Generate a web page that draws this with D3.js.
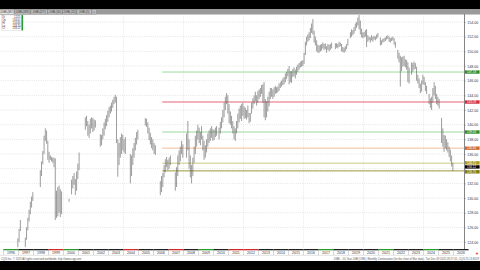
<!DOCTYPE html>
<html>
<head>
<meta charset="utf-8">
<script src="https://cdn.jsdelivr.net/npm/d3@7/dist/d3.min.js"></script>
<style>
  body { margin: 0; background: #000; }
  svg { display: block; font-family: "Liberation Sans", Arial, sans-serif; }
</style>
</head>
<body>
<svg id="chart" width="480" height="270"></svg>
<script>
// monthly bars: [month, low, high]
const priceBars = [
  ['1996-12', 123.3, 124.5], ['1997-01', 124.0, 125.8], ['1997-02', 125.5, 127.0],
  ['1997-06', 123.3, 124.6], ['1997-07', 124.3, 126.0], ['1997-08', 125.6, 127.3], ['1997-09', 126.8, 128.4],
  ['1997-10', 127.8, 129.5], ['1997-11', 128.7, 130.2], ['1997-12', 129.6, 130.8],
  ['1998-06', 131.5, 133.8], ['1998-07', 133.0, 135.0], ['1998-08', 134.6, 136.4], ['1998-09', 136.0, 138.5],
  ['1998-10', 137.8, 139.5], ['1998-11', 137.4, 139.2], ['1998-12', 135.2, 137.8], ['1999-01', 134.8, 136.3],
  ['1999-02', 135.2, 135.8], ['1999-03', 135.0, 135.6], ['1999-04', 134.8, 135.5], ['1999-05', 134.2, 135.5],
  ['1999-06', 127.0, 135.4], ['1999-07', 127.3, 131.0], ['1999-08', 127.5, 131.5], ['1999-09', 128.0, 131.7],
  ['1999-10', 127.4, 131.2], ['1999-11', 127.8, 130.9],
  ['2000-05', 129.5, 129.9], ['2000-07', 130.5, 132.5], ['2000-08', 131.3, 133.0], ['2000-09', 131.8, 133.4],
  ['2000-10', 130.4, 132.6], ['2000-11', 131.0, 133.6], ['2000-12', 132.6, 134.7], ['2001-01', 133.8, 136.2],
  ['2001-06', 139.3, 141.0], ['2001-07', 139.8, 141.2], ['2001-08', 138.5, 140.5], ['2001-09', 138.2, 140.0],
  ['2001-10', 138.8, 140.8], ['2001-11', 139.5, 141.0], ['2001-12', 139.0, 140.9], ['2002-01', 139.2, 140.7],
  ['2002-02', 139.6, 140.6],
  ['2002-06', 137.0, 138.7], ['2002-07', 137.2, 138.6], ['2002-08', 138.0, 139.5], ['2002-09', 138.5, 140.3],
  ['2002-10', 139.4, 140.8], ['2002-11', 139.8, 141.3], ['2002-12', 140.4, 141.9], ['2003-01', 141.0, 142.4],
  ['2003-02', 141.5, 142.6], ['2003-03', 141.8, 143.0], ['2003-04', 142.3, 143.4], ['2003-05', 142.8, 143.8],
  ['2003-06', 143.0, 144.05], ['2003-07', 137.5, 143.8], ['2003-08', 132.9, 138.0], ['2003-09', 134.5, 137.5],
  ['2003-10', 135.5, 138.3], ['2003-11', 136.0, 138.8], ['2003-12', 136.5, 138.6], ['2004-01', 136.2, 138.0],
  ['2004-02', 136.0, 138.3],
  ['2004-06', 132.0, 136.0], ['2004-07', 133.0, 135.8], ['2004-08', 134.5, 136.8], ['2004-09', 135.5, 137.5],
  ['2004-10', 136.5, 138.2], ['2004-11', 137.3, 139.0], ['2004-12', 138.0, 139.3],
  ['2005-06', 139.9, 140.9], ['2005-07', 139.7, 140.8], ['2005-08', 138.8, 140.3], ['2005-09', 137.9, 139.6],
  ['2005-10', 137.3, 138.9], ['2005-11', 136.8, 138.3], ['2005-12', 136.5, 138.0], ['2006-01', 136.0, 137.5],
  ['2006-02', 135.9, 137.2],
  ['2006-06', 130.4, 132.3], ['2006-07', 130.8, 133.0], ['2006-08', 131.5, 133.4], ['2006-09', 132.8, 134.5],
  ['2006-10', 133.5, 135.3], ['2006-11', 134.2, 135.6], ['2006-12', 133.8, 135.2], ['2007-01', 134.0, 135.5],
  ['2007-02', 134.5, 135.8],
  ['2007-06', 131.0, 133.5], ['2007-07', 131.5, 134.2], ['2007-08', 133.0, 135.8], ['2007-09', 134.5, 136.5],
  ['2007-10', 135.0, 137.0], ['2007-11', 136.0, 137.8], ['2007-12', 135.5, 137.3],
  ['2008-03', 135.5, 138.8], ['2008-04', 136.5, 140.5], ['2008-05', 134.0, 138.0], ['2008-06', 132.8, 135.8],
  ['2008-07', 132.0, 134.5], ['2008-08', 133.0, 135.5], ['2008-09', 134.8, 137.0], ['2008-10', 136.0, 138.5],
  ['2008-11', 137.0, 139.2], ['2008-12', 138.0, 140.0], ['2009-01', 137.5, 139.6], ['2009-02', 137.2, 139.0],
  ['2009-03', 138.0, 139.8], ['2009-04', 136.5, 138.5], ['2009-05', 135.2, 137.8], ['2009-06', 135.5, 137.2],
  ['2009-07', 136.2, 138.0], ['2009-08', 137.0, 138.8], ['2009-09', 137.5, 139.2], ['2009-10', 137.8, 139.5],
  ['2009-11', 138.2, 139.8], ['2009-12', 137.8, 139.4], ['2010-01', 137.9, 139.3], ['2010-02', 138.3, 139.6],
  ['2010-03', 138.5, 139.8], ['2010-05', 138.0, 139.6], ['2010-06', 138.8, 140.4], ['2010-07', 139.5, 141.0],
  ['2010-08', 140.3, 142.0], ['2010-09', 141.0, 143.0], ['2010-10', 142.0, 143.8], ['2010-11', 142.8, 144.3],
  ['2010-12', 141.5, 144.0], ['2011-01', 140.2, 142.8], ['2011-02', 140.0, 141.8], ['2011-03', 139.5, 141.2],
  ['2011-04', 138.8, 140.5], ['2011-05', 138.0, 139.8], ['2011-06', 137.8, 139.5], ['2011-07', 138.8, 140.5],
  ['2011-08', 139.5, 141.5], ['2011-09', 140.3, 142.2], ['2011-10', 140.8, 142.6], ['2011-11', 140.5, 142.8],
  ['2011-12', 141.2, 143.0], ['2012-01', 140.8, 142.5], ['2012-02', 140.9, 142.3], ['2012-03', 140.7, 142.0],
  ['2012-04', 141.0, 142.6], ['2012-05', 140.2, 141.6], ['2012-06', 140.4, 141.6], ['2012-07', 141.5, 143.0],
  ['2012-08', 142.2, 143.6], ['2012-09', 142.8, 144.0], ['2012-10', 143.2, 144.5], ['2012-11', 142.6, 144.0],
  ['2012-12', 143.0, 144.6], ['2013-01', 143.5, 144.8], ['2013-02', 143.8, 145.0], ['2013-03', 144.2, 145.4],
  ['2013-04', 143.0, 145.5], ['2013-05', 141.0, 145.8], ['2013-06', 140.6, 143.5], ['2013-07', 141.0, 143.2],
  ['2013-08', 141.8, 143.8], ['2013-09', 142.5, 144.5], ['2013-10', 143.5, 145.0], ['2013-11', 143.8, 145.0],
  ['2013-12', 143.5, 144.8], ['2014-01', 143.8, 145.1], ['2014-02', 144.2, 145.3], ['2014-03', 144.3, 145.1],
  ['2014-04', 144.4, 145.2], ['2014-05', 144.6, 145.6], ['2014-06', 145.0, 145.8], ['2014-07', 145.2, 146.0],
  ['2014-08', 145.4, 146.3], ['2014-09', 145.5, 146.5], ['2014-10', 145.8, 147.0], ['2014-11', 146.2, 147.2],
  ['2014-12', 146.6, 147.6], ['2015-01', 145.5, 148.0], ['2015-02', 145.8, 147.3], ['2015-03', 145.7, 147.3],
  ['2015-04', 146.5, 147.6], ['2015-05', 146.6, 147.8], ['2015-06', 146.3, 147.5], ['2015-07', 146.8, 147.9],
  ['2015-08', 147.2, 148.2], ['2015-09', 147.5, 148.4], ['2015-10', 147.8, 148.6], ['2015-11', 147.9, 148.7],
  ['2015-12', 148.0, 148.8], ['2016-01', 148.3, 149.8], ['2016-02', 149.5, 151.3], ['2016-03', 150.8, 152.0],
  ['2016-04', 151.3, 152.3], ['2016-05', 151.5, 152.6], ['2016-06', 151.8, 153.2], ['2016-07', 152.5, 153.8],
  ['2016-08', 152.3, 154.4], ['2016-09', 151.2, 152.8], ['2016-10', 150.8, 152.0], ['2016-11', 150.0, 151.5],
  ['2016-12', 149.8, 150.9], ['2017-01', 149.8, 150.8], ['2017-02', 150.0, 150.9], ['2017-03', 150.1, 151.0],
  ['2017-04', 150.4, 151.2], ['2017-05', 150.2, 151.0], ['2017-06', 150.3, 151.1], ['2017-07', 149.8, 150.7],
  ['2017-08', 150.2, 151.0], ['2017-09', 150.0, 150.9], ['2017-10', 150.2, 151.0], ['2017-11', 150.4, 151.2],
  ['2018-02', 150.3, 151.1], ['2018-03', 150.5, 151.1], ['2018-04', 150.4, 151.0], ['2018-05', 150.6, 151.3],
  ['2018-06', 150.7, 151.2], ['2018-07', 150.0, 151.0], ['2018-08', 149.9, 150.6], ['2018-09', 149.8, 150.5],
  ['2018-10', 150.0, 150.7], ['2018-11', 150.3, 151.0], ['2018-12', 150.8, 151.7],
  ['2019-02', 151.8, 152.6], ['2019-03', 152.0, 153.0], ['2019-04', 152.2, 152.9], ['2019-05', 152.4, 153.3],
  ['2019-06', 152.8, 153.8], ['2019-07', 153.2, 154.0], ['2019-08', 153.5, 154.6], ['2019-09', 153.0, 154.95],
  ['2019-10', 152.3, 154.2], ['2019-11', 151.9, 153.1], ['2019-12', 151.8, 152.6], ['2020-01', 151.9, 152.6],
  ['2020-02', 152.0, 152.9], ['2020-03', 150.6, 153.0], ['2020-04', 151.3, 152.2], ['2020-05', 151.5, 152.0],
  ['2020-06', 151.2, 151.9], ['2020-07', 151.5, 152.2], ['2020-08', 151.3, 152.0], ['2020-09', 151.6, 152.1],
  ['2020-10', 151.5, 152.0], ['2020-11', 151.7, 152.3], ['2020-12', 151.9, 152.5],
  ['2021-02', 150.8, 151.9], ['2021-03', 150.9, 151.5], ['2021-04', 151.2, 151.7], ['2021-05', 151.3, 151.8],
  ['2021-06', 151.4, 151.9], ['2021-07', 151.6, 152.1], ['2021-08', 151.7, 152.2], ['2021-09', 151.3, 152.0],
  ['2021-10', 151.2, 151.8], ['2021-11', 151.4, 151.9], ['2021-12', 151.5, 152.0], ['2022-01', 150.9, 151.8],
  ['2022-02', 150.5, 151.3],
  ['2022-04', 149.0, 150.2], ['2022-05', 148.5, 149.8], ['2022-06', 145.2, 149.4], ['2022-07', 147.3, 149.2],
  ['2022-08', 147.9, 149.3], ['2022-09', 148.0, 149.4], ['2022-10', 147.8, 148.9], ['2022-11', 147.5, 148.8],
  ['2022-12', 145.8, 148.5], ['2023-01', 145.6, 147.8],
  ['2023-03', 146.8, 148.5], ['2023-04', 147.2, 148.4], ['2023-05', 147.5, 148.6], ['2023-06', 147.6, 148.4],
  ['2023-07', 146.0, 147.9], ['2023-08', 145.6, 146.8], ['2023-09', 145.0, 146.3], ['2023-10', 144.3, 145.6],
  ['2023-11', 144.5, 146.0], ['2023-12', 145.5, 146.8], ['2024-01', 145.4, 146.5], ['2024-02', 144.6, 145.8],
  ['2024-03', 144.2, 145.3],
  ['2024-05', 142.8, 144.2], ['2024-06', 142.3, 143.6], ['2024-07', 142.0, 143.8], ['2024-08', 143.0, 145.0],
  ['2024-09', 144.0, 145.8], ['2024-10', 143.5, 145.3], ['2024-11', 142.8, 144.2], ['2024-12', 142.6, 143.8],
  ['2025-01', 142.2, 143.5],
  ['2025-03', 137.5, 140.9], ['2025-04', 137.0, 139.5], ['2025-05', 136.3, 138.6], ['2025-06', 136.8, 138.5],
  ['2025-07', 136.5, 138.0], ['2025-08', 136.2, 137.6], ['2025-09', 135.6, 137.0], ['2025-10', 135.0, 136.6],
  ['2025-11', 134.3, 135.8], ['2025-12', 133.7, 134.8]
];

const priceTicks = [124, 126, 128, 130, 132, 134, 136, 138, 140, 142, 144, 146, 148, 150, 152, 154];
const years = d3.range(1996, 2027);
const yearColors = ['#2a9a2a', '#222', '#222', '#d02a2a', '#2a9a2a', '#222', '#222', '#222', '#d02a2a', '#222',
  '#222', '#d02a2a', '#222', '#2a9a2a', '#222', '#d02a2a', '#d02a2a', '#222', '#222', '#222', '#222',
  '#2a9a2a', '#222', '#222', '#222', '#2a9a2a', '#222', '#222', '#2a9a2a', '#222', '#222'];
const gridYears = [2000, 2004, 2008, 2012, 2016, 2020, 2024];

const levels = [147.18, 143.09, 139.00, 136.80, 134.75, 133.70];
const levelLine = ['#8fd48f', '#e2546a', '#8fd48f', '#f2b48c', '#c4c474', '#8c8c26'];
const levelFill = ['#2f8f2f', '#d0303f', '#2f8f2f', '#cc6a30', '#a89a22', '#7c7c10'];
const levelNudge = [0, 0, 0, 0, -0.3, 0.9];
const levelStart = '2006-08';
const lastPrice = 134.12;

const tabNames = ['JGBL(MO)', 'JGBL(WK)', 'JGBL(DY)', 'JGBL(60)', 'JGBL(15)', 'JGBL(5)', '+'];
const tabWidths = [15, 16, 17, 15, 14, 15, 5];
const legendRows = [['Dt', '12/25'], ['Op', '134.61'], ['Hi', '134.80'], ['Lo', '133.70'], ['Cl', '134.12']];

const parseMonth = d3.timeParse('%Y-%m');
const plot = {left: 1, right: 464, top: 14, bottom: 249};

const svg = d3.select('#chart');

const x = d3.scaleTime()
  .domain([new Date(1996, 0, 1), new Date(2026, 8, 12)])
  .range([3.5, plot.right]);

const y = d3.scaleLinear()
  .domain([123.05, 155.09])
  .range([plot.bottom, plot.top]);

const midMonth = m => d3.timeDay.offset(parseMonth(m), 14);

// backgrounds
svg.append('rect').attr('x', 0).attr('y', 9).attr('width', 480).attr('height', 252).attr('fill', '#fff');
svg.append('rect').attr('x', 0).attr('y', 9).attr('width', 480).attr('height', 5.5).attr('fill', '#9a9a9a');

// tabs
let tabX = 0;
tabNames.forEach((name, i) => {
  const g = svg.append('g').attr('transform', `translate(${tabX}, 9.5)`);
  g.append('rect')
    .attr('width', tabWidths[i] - 0.6).attr('height', 4.6)
    .attr('fill', i === 0 ? '#e8e8e8' : '#bdbdbd')
    .attr('stroke', '#707070').attr('stroke-width', 0.3);
  g.append('text')
    .attr('x', (tabWidths[i] - 0.6) / 2).attr('y', 3.5)
    .attr('text-anchor', 'middle').attr('font-size', 2.9).attr('fill', '#333')
    .text(name);
  tabX += tabWidths[i];
});

// grid
svg.append('g')
  .selectAll('line')
  .data(priceTicks)
  .enter().append('line')
    .attr('x1', plot.left).attr('x2', plot.right)
    .attr('y1', d => y(d)).attr('y2', d => y(d))
    .attr('stroke', '#c8c8c8').attr('stroke-width', 0.5).attr('stroke-dasharray', '1,1.2');

svg.append('g')
  .selectAll('line')
  .data(gridYears)
  .enter().append('line')
    .attr('x1', d => x(new Date(d, 0, 1))).attr('x2', d => x(new Date(d, 0, 1)))
    .attr('y1', plot.top).attr('y2', plot.bottom)
    .attr('stroke', '#d0d0d0').attr('stroke-width', 0.5).attr('stroke-dasharray', '1,1.2');

// level lines
svg.append('g')
  .selectAll('line')
  .data(levels)
  .enter().append('line')
    .attr('x1', x(parseMonth(levelStart))).attr('x2', plot.right)
    .attr('y1', d => y(d)).attr('y2', d => y(d))
    .attr('stroke', (d, i) => levelLine[i]).attr('stroke-width', 0.9);

// price bars
svg.append('g')
  .selectAll('line')
  .data(priceBars)
  .enter().append('line')
    .attr('x1', d => x(midMonth(d[0]))).attr('x2', d => x(midMonth(d[0])))
    .attr('y1', d => y(d[1])).attr('y2', d => y(d[2]))
    .attr('stroke', '#5a5a5a').attr('stroke-width', 0.6);

// legend box
const legend = svg.append('g').attr('transform', 'translate(1.5, 15)');
legend.append('rect').attr('width', 20).attr('height', 15.5).attr('fill', '#fff')
  .attr('stroke', '#bbb').attr('stroke-width', 0.3);
legend.append('rect').attr('x', 20).attr('width', 1.6).attr('height', 15.5).attr('fill', '#2a9a2a');
legendRows.forEach((r, i) => {
  legend.append('text').attr('x', 0.8).attr('y', 2.8 + i * 2.9)
    .attr('font-size', 2.6).attr('fill', '#333').text(r[0]);
  legend.append('text').attr('x', 19).attr('y', 2.8 + i * 2.9).attr('text-anchor', 'end')
    .attr('font-size', 2.6).attr('fill', '#333').text(r[1]);
});

// price tags (levels + last price)
const tags = levels.map((v, i) => ({v, fill: levelFill[i], nudge: levelNudge[i]}));
tags.push({v: lastPrice, fill: '#000', nudge: -0.9});

// right price axis; tick labels that sit under a tag are hidden, as on the original
svg.append('line')
  .attr('x1', plot.right + 0.5).attr('x2', plot.right + 0.5)
  .attr('y1', plot.top).attr('y2', plot.bottom + 1)
  .attr('stroke', '#666').attr('stroke-width', 0.8);

const covered = d => tags.some(t => Math.abs(y(t.v) + t.nudge - y(d)) < 3.2);

const yAxis = d3.axisRight(y)
  .tickValues(priceTicks)
  .tickSize(1.5)
  .tickPadding(1.2)
  .tickFormat(d => covered(d) ? '' : d3.format('.2f')(d));

const axisY = svg.append('g')
  .attr('transform', `translate(${plot.right + 0.5}, 0)`)
  .call(yAxis);
axisY.select('.domain').remove();
axisY.selectAll('line').attr('stroke', '#666').attr('stroke-width', 0.4);
axisY.selectAll('text').attr('font-size', 3.6).attr('fill', '#333').attr('font-family', '"Liberation Sans", Arial, sans-serif');

const tag = svg.append('g').selectAll('g')
  .data(tags)
  .enter().append('g')
    .attr('transform', d => `translate(${plot.right + 1}, ${y(d.v) + d.nudge})`);
tag.append('rect').attr('y', -1.7).attr('width', 14.6).attr('height', 3.4).attr('fill', d => d.fill);
tag.append('text').attr('x', 2).attr('y', 1.05).attr('font-size', 3.0)
  .attr('fill', '#fff').text(d => d.v.toFixed(2));

// time axis strip
const strip = svg.append('g');
strip.selectAll('rect')
  .data(years)
  .enter().append('rect')
    .attr('x', d => x(new Date(d, 0, 1)))
    .attr('y', plot.bottom)
    .attr('width', d => x(new Date(d + 1, 0, 1)) - x(new Date(d, 0, 1)))
    .attr('height', 1.3)
    .attr('fill', (d, i) => yearColors[i]);
strip.selectAll('line')
  .data(years)
  .enter().append('line')
    .attr('x1', d => x(new Date(d, 0, 1))).attr('x2', d => x(new Date(d, 0, 1)))
    .attr('y1', plot.bottom).attr('y2', plot.bottom + 6)
    .attr('stroke', '#777').attr('stroke-width', 0.3);
strip.selectAll('text')
  .data(years)
  .enter().append('text')
    .attr('x', d => x(new Date(d, 6, 1)))
    .attr('y', plot.bottom + 5.2)
    .attr('text-anchor', 'middle')
    .attr('font-size', 3.5).attr('fill', '#333')
    .text(d => d);
svg.append('line')
  .attr('x1', 0).attr('x2', plot.right)
  .attr('y1', plot.bottom + 6.3).attr('y2', plot.bottom + 6.3)
  .attr('stroke', '#999').attr('stroke-width', 0.3);

// red marker in corner
svg.append('text').attr('x', 477).attr('y', 254.8).attr('text-anchor', 'middle')
  .attr('font-size', 5).attr('font-weight', 'bold').attr('fill', '#d01020').text('+');

// footer
svg.append('text').attr('x', 1).attr('y', 259.6).attr('font-size', 2.7).attr('fill', '#555')
  .text('CQG Inc. © 2025 All rights reserved worldwide. http://www.cqg.com');
svg.append('text').attr('x', 479).attr('y', 259.6).attr('text-anchor', 'end')
  .attr('font-size', 2.7).attr('fill', '#555')
  .text('JGBL - 10-Year JGB (OSE), Monthly Continuation (for the chart of Mar data), Tue Dec 09 2025 09:27:41, CQG 25.13.8019');

// letterbox bands
svg.append('rect').attr('x', 0).attr('y', 0).attr('width', 480).attr('height', 9).attr('fill', '#000');
svg.append('rect').attr('x', 0).attr('y', 261).attr('width', 480).attr('height', 9).attr('fill', '#000');
</script>
</body>
</html>
